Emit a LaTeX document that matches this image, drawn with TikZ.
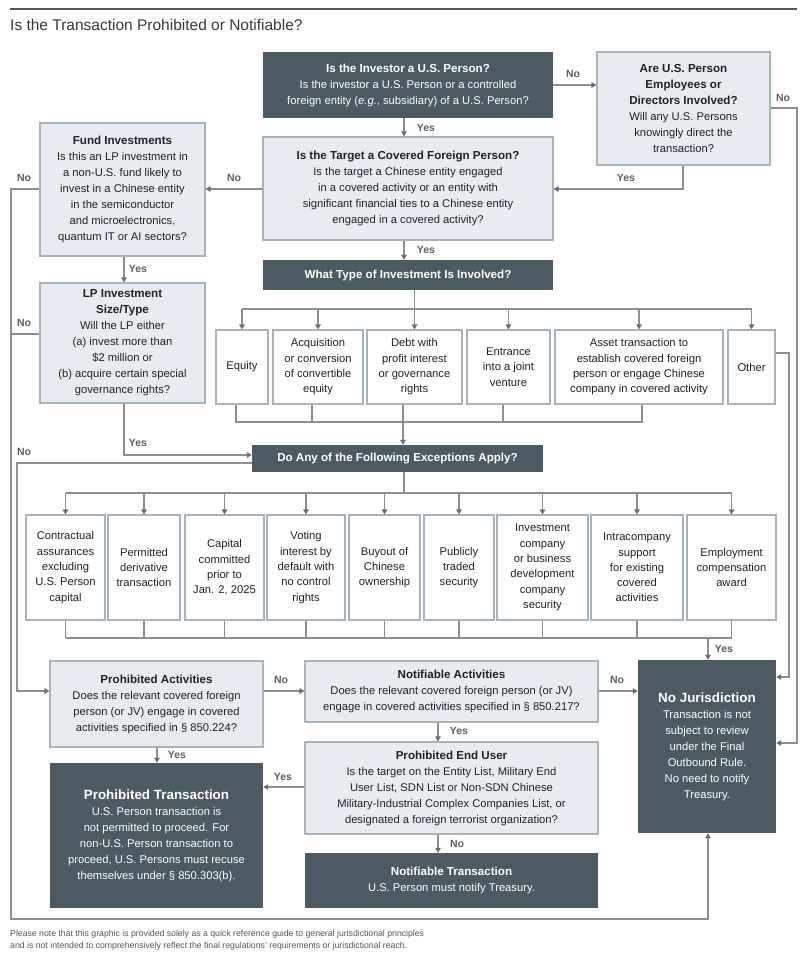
\documentclass[tikz,border=0pt]{standalone}
\usepackage{fontspec}
\setmainfont{Liberation Sans}
\usetikzlibrary{arrows.meta,calc}
\definecolor{darkc}{HTML}{4B5A63}
\definecolor{lightc}{HTML}{E9ECEE}
\definecolor{bordc}{HTML}{A7B4BD}
\definecolor{connc}{HTML}{8E8E8E}
\definecolor{tipc}{HTML}{6E6E6E}
\definecolor{lblc}{HTML}{5E5E5E}
\definecolor{txtc}{HTML}{222222}
\definecolor{titlec}{HTML}{3A3A3A}
\definecolor{rulec}{HTML}{555555}
\definecolor{footc}{HTML}{555555}
\newcommand{\mytitle}[1]{{\fontsize{11.6}{16}\selectfont\bfseries #1}}
\newcommand{\mybig}[1]{{\fontsize{13.4}{18}\selectfont\bfseries #1}}
\tikzset{
  base/.style={inner sep=2pt, align=center, font=\fontsize{11.2}{16}\selectfont, text=txtc},
  darkbox/.style={base, fill=darkc, draw=none, text=white},
  lightbox/.style={base, fill=lightc, draw=bordc, line width=1.1pt},
  whitebox/.style={base, fill=white, draw=bordc, line width=1.1pt, font=\fontsize{11.2}{15.3}\selectfont},
  sz/.style 2 args={minimum width=#1, minimum height=#2},
  conn/.style={draw=connc, line width=1.15pt},
  arr/.style={conn, -{Triangle[length=5pt,width=5.5pt,color=tipc]}},
  lab/.style={font=\bfseries\fontsize{10.5}{12}\selectfont, text=lblc, inner sep=0pt},
}
\begin{document}
\begin{tikzpicture}[x=1pt,y=-1pt]
\fill[white] (0,0) rectangle (806,963);
\useasboundingbox (0,0) rectangle (806,963);

% title
\draw[line width=2pt, rulec] (10,9) -- (797,9);
\node[anchor=west, inner sep=0pt, font=\fontsize{15.5}{18}\selectfont, text=titlec] (title) at (10,25) {Is the Transaction Prohibited or Notifiable?};

% top boxes
\node[darkbox, sz={290pt}{66pt}] (inv) at (408,85)
  {\mytitle{Is the Investor a U.S. Person?}\\Is the investor a U.S. Person or a controlled\\foreign entity (\textit{e.g.}, subsidiary) of a U.S. Person?};
\node[lightbox, sz={173pt}{113pt}] (emp) at (683.5,108.5)
  {\mytitle{Are U.S. Person}\\\mytitle{Employees or}\\\mytitle{Directors Involved?}\\Will any U.S. Persons\\knowingly direct the\\transaction?};
\node[lightbox, sz={290pt}{103pt}] (tgt) at (408,188.5)
  {\mytitle{Is the Target a Covered Foreign Person?}\\Is the target a Chinese entity engaged\\in a covered activity or an entity with\\significant financial ties to a Chinese entity\\engaged in a covered activity?};
\node[lightbox, sz={165pt}{133pt}] (fund) at (122.5,189.5)
  {\mytitle{Fund Investments}\\Is this an LP investment in\\a non-U.S. fund likely to\\invest in a Chinese entity\\in the semiconductor\\and microelectronics,\\quantum IT or AI sectors?};
\node[lightbox, sz={165pt}{120pt}] (lp) at (122.5,343)
  {\mytitle{LP Investment}\\\mytitle{Size/Type}\\Will the LP either\\(a) invest more than\\\$2 million or\\(b) acquire certain special\\governance rights?};
\node[darkbox, sz={290pt}{30pt}] (what) at (408,275) {\mytitle{What Type of Investment Is Involved?}};

% investment types
\node[whitebox, sz={52pt}{74pt}] (equity) at (242,367) {Equity};
\node[whitebox, sz={90pt}{74pt}] (acq) at (318,367) {Acquisition\\or conversion\\of convertible\\equity};
\node[whitebox, sz={95pt}{74pt}] (debt) at (414.5,367) {Debt with\\profit interest\\or governance\\rights};
\node[whitebox, sz={83pt}{74pt}] (ent) at (508.5,367) {Entrance\\into a joint\\venture};
\node[whitebox, sz={168pt}{74pt}] (asset) at (639,367) {Asset transaction to\\establish covered foreign\\person or engage Chinese\\company in covered activity};
\node[whitebox, sz={47pt}{74pt}] (other) at (751.5,367) {Other};

\node[darkbox, sz={291pt}{27pt}] (do) at (397.5,458.5) {\mytitle{Do Any of the Following Exceptions Apply?}};

% exceptions
\node[whitebox, sz={79pt}{105pt}] (e1) at (65.5,567.5) {Contractual\\assurances\\excluding\\U.S. Person\\capital};
\node[whitebox, sz={72pt}{105pt}] (e2) at (144,567.5) {Permitted\\derivative\\transaction};
\node[whitebox, sz={79pt}{105pt}] (e3) at (224.5,567.5) {Capital\\committed\\prior to\\Jan. 2, 2025};
\node[whitebox, sz={78pt}{105pt}] (e4) at (306,567.5) {Voting\\interest by\\default with\\no control\\rights};
\node[whitebox, sz={71pt}{105pt}] (e5) at (384.5,567.5) {Buyout of\\Chinese\\ownership};
\node[whitebox, sz={70pt}{105pt}] (e6) at (459,567.5) {Publicly\\traded\\security};
\node[whitebox, sz={91pt}{105pt}] (e7) at (542.5,567.5) {Investment\\company\\or business\\development\\company\\security};
\node[whitebox, sz={92pt}{105pt}] (e8) at (637,567.5) {Intracompany\\support\\for existing\\covered\\activities};
\node[whitebox, sz={89pt}{105pt}] (e9) at (731.5,567.5) {Employment\\compensation\\award};

% bottom area
\node[lightbox, sz={213pt}{86pt}] (pa) at (156.5,704)
  {\mytitle{Prohibited Activities}\\Does the relevant covered foreign\\person (or JV) engage in covered\\activities specified in § 850.224?};
\node[lightbox, sz={293pt}{61pt}] (na) at (451.5,691.5)
  {\mytitle{Notifiable Activities}\\Does the relevant covered foreign person (or JV)\\engage in covered activities specified in § 850.217?};
\node[lightbox, sz={293pt}{92pt}] (peu) at (451.5,788)
  {\mytitle{Prohibited End User}\\Is the target on the Entity List, Military End\\User List, SDN List or Non-SDN Chinese\\Military-Industrial Complex Companies List, or\\designated a foreign terrorist organization?};
\node[darkbox, sz={293pt}{55pt}] (nt) at (451.5,880.5)
  {\mytitle{Notifiable Transaction}\\U.S. Person must notify Treasury.};
\node[darkbox, sz={213pt}{145pt}] (pt) at (156.5,835.5)
  {\mybig{Prohibited Transaction}\\U.S. Person transaction is\\not permitted to proceed. For\\non-U.S. Person transaction to\\proceed, U.S. Persons must recuse\\themselves under § 850.303(b).};
\node[darkbox, sz={138pt}{173pt}] (nj) at (707,746.5)
  {\mybig{No Jurisdiction}\\Transaction is not\\subject to review\\under the Final\\Outbound Rule.\\No need to notify\\Treasury.};

% footnote
\node[anchor=north west, align=left, inner sep=0pt, font=\fontsize{8.7}{11.5}\selectfont, text=footc] (foot) at (10,930)
  {Please note that this graphic is provided solely as a quick reference guide to general jurisdictional principles\\and is not intended to comprehensively reflect the final regulations' requirements or jurisdictional reach.};

% ---------- connectors ----------
\coordinate (cA) at (404,0);
\coordinate (eY) at (683,189);
\coordinate (eN1) at (797,108);
\coordinate (eN2) at (797,743);
\coordinate (cL) at (124,0);
\coordinate (fN1) at (11,189);
\coordinate (fN2) at (11,919);
\coordinate (fN3) at (708,919);
\coordinate (lN) at (11,334);
\coordinate (lY) at (124,455);
\coordinate (tH) at (0,309);
\coordinate (bH) at (0,422);
\coordinate (dX) at (403,0);
\coordinate (xH) at (0,493);
\coordinate (dS) at (404,0);
\coordinate (yH) at (0,638);
\coordinate (nX) at (708,0);
\coordinate (o1) at (789,353);
\coordinate (o2) at (789,677);
\coordinate (dN1) at (17,463);
\coordinate (dN2) at (17,691);
\coordinate (rowA) at (0,691);
\coordinate (cN) at (438,0);
\coordinate (cP) at (157,0);
\coordinate (rowB) at (0,787);

\draw[arr] (inv.east) -- (emp.west |- inv.east);
\draw[arr] (inv.south -| cA) -- (tgt.north -| cA);
\draw[arr] (emp.south -| eY) -- (eY) -- (tgt.east |- eY);
\draw[arr] (emp.east |- eN1) -- (eN1) -- (eN2) -- (nj.east |- eN2);
\draw[arr] (tgt.west |- eY) -- (fund.east |- eY);
\draw[arr] (tgt.south -| cA) -- (what.north -| cA);
\draw[arr] (fund.south -| cL) -- (lp.north -| cL);
\draw[arr] (fund.west |- fN1) -- (fN1) -- (fN2) -- (fN3) -- (nj.south -| fN3);
\draw[conn] (lp.west |- lN) -- (lN);
\draw[arr] (lp.south -| lY) -- (lY) -- (do.west |- lY);

% what type -> investment types
\draw[arr] (debt.north |- what.south) -- (debt.north);
\draw[conn] (equity.north |- tH) -- (other.north |- tH);
\foreach \n in {equity,acq,ent,asset,other} \draw[arr] (\n.north |- tH) -- (\n.north);

% investment types -> exceptions
\draw[conn] ([xshift=-6pt]equity.south) -- ([xshift=-6pt]equity.south |- bH) -- ([xshift=3pt]asset.south |- bH) -- ([xshift=3pt]asset.south);
\draw[conn] ([xshift=-6pt]acq.south) -- ([xshift=-6pt]acq.south |- bH);
\draw[conn] ([xshift=-5.5pt]ent.south) -- ([xshift=-5.5pt]ent.south |- bH);
\draw[arr] (debt.south -| dX) -- (do.north -| dX);

% exceptions fan-out
\draw[conn] (do.south -| dS) -- (dS |- xH);
\draw[conn] (e1.north |- xH) -- (e9.north |- xH);
\foreach \n in {e1,e2,e3,e4,e5,e6,e7,e8,e9} \draw[arr] (\n.north |- xH) -- (\n.north);
\foreach \n in {e1,e2,e3,e4,e5,e6,e7,e8,e9} \draw[conn] (\n.south) -- (\n.south |- yH);
\draw[conn] (e1.south |- yH) -- (e9.south |- yH);
\draw[arr] (nX |- yH) -- (nj.north -| nX);

% other -> no jurisdiction
\draw[arr] (other.east |- o1) -- (o1) -- (o2) -- (nj.east |- o2);

% exceptions "No" -> prohibited activities
\draw[arr] (do.west |- dN1) -- (dN1) -- (dN2) -- (pa.west |- dN2);
\draw[arr] (pa.east |- rowA) -- (na.west |- rowA);
\draw[arr] (na.east |- rowA) -- (nj.west |- rowA);
\draw[arr] (na.south -| cN) -- (peu.north -| cN);
\draw[arr] (peu.south -| cN) -- (nt.north -| cN);
\draw[arr] (pa.south -| cP) -- (pt.north -| cP);
\draw[arr] (peu.west |- rowB) -- (pt.east |- rowB);

% labels
\node[lab] (l1) at (573,74) {No};
\node[lab] (l2) at (426,128) {Yes};
\node[lab] (l3) at (426,250) {Yes};
\node[lab] (l4) at (626,178) {Yes};
\node[lab] (l5) at (783,98) {No};
\node[lab] (l6) at (234,178) {No};
\node[lab] (l7) at (24,178) {No};
\node[lab] (l8) at (138,269) {Yes};
\node[lab] (l9) at (24,323) {No};
\node[lab] (l10) at (138,443) {Yes};
\node[lab] (l11) at (24,452) {No};
\node[lab] (l12) at (724,649) {Yes};
\node[lab] (l13) at (281,680) {No};
\node[lab] (l14) at (617,680) {No};
\node[lab] (l15) at (459,731) {Yes};
\node[lab] (l16) at (457,844) {No};
\node[lab] (l17) at (177,755) {Yes};
\node[lab] (l18) at (283,777) {Yes};
\end{tikzpicture}
\end{document}
